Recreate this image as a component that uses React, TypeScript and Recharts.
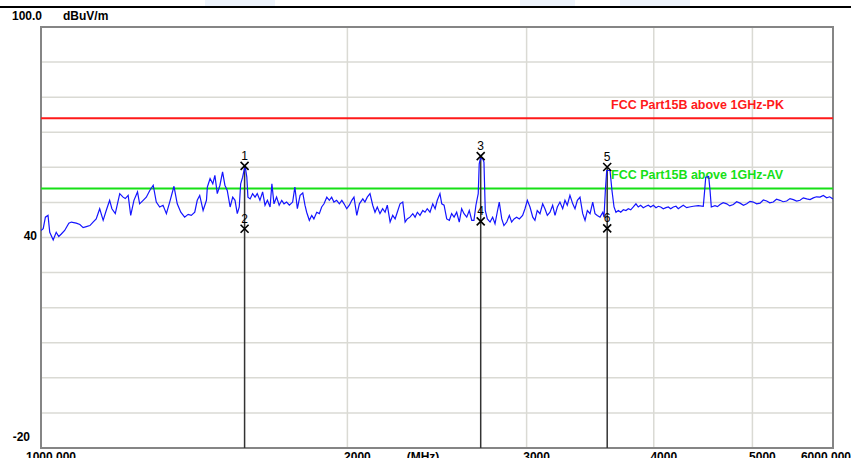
import React from "react";
import {
  CartesianGrid,
  ComposedChart,
  Label,
  Line,
  ReferenceArea,
  ReferenceLine,
  Scatter,
  XAxis,
  YAxis,
} from "recharts";

// sweep points (MHz)
const traceFreqs = [
  1000, 1005, 1010, 1016, 1020, 1028, 1035, 1041, 1047, 1055, 1065, 1071, 1083,
  1092, 1100, 1108, 1117, 1125, 1133, 1142, 1151, 1159, 1168, 1174, 1183, 1195,
  1204, 1210, 1218, 1225, 1234, 1244, 1250, 1260, 1269, 1279, 1289, 1298, 1308,
  1318, 1328, 1338, 1351, 1361, 1372, 1384, 1395, 1405, 1416, 1424, 1432, 1443,
  1454, 1457, 1466, 1475, 1482, 1490, 1499, 1508, 1516, 1524, 1534, 1543, 1551,
  1559, 1566, 1571, 1578, 1584, 1588, 1593, 1597, 1605, 1614, 1623, 1631, 1641,
  1651, 1660, 1669, 1679, 1686, 1694, 1704, 1714, 1724, 1733, 1743, 1754, 1767,
  1776, 1786, 1797, 1808, 1817, 1824, 1835, 1845, 1854, 1866, 1877, 1887, 1897,
  1909, 1920, 1930, 1940, 1952, 1964, 1975, 1985, 1997, 2009, 2020, 2030, 2043,
  2055, 2071, 2081, 2092, 2105, 2118, 2129, 2140, 2153, 2166, 2178, 2189, 2203,
  2216, 2228, 2239, 2253, 2267, 2279, 2290, 2304, 2319, 2331, 2343, 2357, 2372,
  2384, 2396, 2411, 2426, 2439, 2451, 2466, 2476, 2489, 2504, 2519, 2532, 2546,
  2561, 2576, 2590, 2604, 2620, 2635, 2650, 2663, 2675, 2689, 2695, 2702, 2716,
  2724, 2732, 2745, 2762, 2778, 2793, 2807, 2820, 2836, 2850, 2868, 2885, 2900,
  2916, 2933, 2951, 2973, 2989, 3005, 3023, 3042, 3057, 3073, 3092, 3111, 3127,
  3144, 3163, 3182, 3199, 3216, 3235, 3255, 3272, 3289, 3309, 3330, 3347, 3365,
  3385, 3406, 3424, 3442, 3463, 3484, 3502, 3520, 3542, 3564, 3574, 3585, 3596,
  3623, 3639, 3656, 3672, 3692, 3712, 3734, 3756, 3776, 3797, 3819, 3842, 3862,
  3883, 3906, 3930, 3951, 3972, 3996, 4020, 4041, 4063, 4087, 4112, 4134, 4156,
  4181, 4206, 4228, 4251, 4276, 4309, 4335, 4374, 4424, 4474, 4488, 4499, 4529,
  4543, 4556, 4594, 4620, 4647, 4680, 4718, 4750, 4789, 4825, 4862, 4900, 4936,
  4973, 5010, 5048, 5087, 5125, 5164, 5200, 5242, 5280, 5322, 5360, 5403, 5444,
  5485, 5527, 5569, 5610, 5654, 5696, 5739, 5780, 5826, 5870, 5915, 5955, 6000,
];

// measured level (dBuV/m)
const traceLevels = [
  42.0, 42.5, 45.8, 46.3, 41.5, 39.3, 41.5, 40.3, 41.0, 42.0, 44.1, 44.4, 44.1,
  43.7, 42.8, 43.1, 43.4, 44.4, 45.3, 48.2, 44.9, 47.7, 50.6, 48.2, 46.8, 52.5,
  51.5, 51.1, 52.0, 46.3, 50.6, 53.0, 49.6, 50.6, 51.5, 53.4, 54.9, 50.1, 48.7,
  49.2, 46.8, 50.1, 54.6, 49.6, 47.2, 45.8, 46.6, 46.3, 47.2, 50.6, 52.0, 47.7,
  50.6, 54.4, 56.8, 55.3, 57.7, 52.5, 54.9, 58.7, 54.9, 53.4, 48.7, 51.5, 50.6,
  46.8, 48.7, 55.3, 57.2, 59.5, 59.8, 57.2, 51.5, 51.0, 52.5, 51.5, 52.5, 50.6,
  53.0, 49.2, 50.6, 48.7, 55.3, 49.6, 51.5, 49.2, 50.6, 49.6, 50.1, 49.2, 50.1,
  54.4, 48.2, 52.0, 52.7, 49.2, 47.2, 44.9, 46.3, 45.3, 47.2, 46.8, 48.7, 49.6,
  51.5, 50.6, 51.5, 50.1, 50.6, 49.6, 50.6, 49.6, 48.2, 49.2, 50.6, 51.5, 46.3,
  49.6, 51.0, 50.1, 51.5, 52.5, 49.2, 47.2, 48.7, 46.8, 48.2, 47.2, 49.2, 44.4,
  46.3, 45.3, 47.2, 49.6, 50.1, 44.4, 45.3, 45.8, 46.8, 45.8, 47.2, 46.3, 47.7,
  47.2, 48.2, 47.2, 49.6, 48.2, 50.6, 52.5, 49.6, 49.2, 45.3, 44.9, 46.8, 45.8,
  47.2, 44.4, 48.2, 46.8, 45.8, 47.7, 44.9, 44.9, 49.2, 52.5, 61.0, 62.5, 62.5,
  61.5, 47.7, 45.3, 44.4, 45.8, 43.9, 47.2, 50.1, 45.3, 43.4, 44.4, 46.3, 44.4,
  45.3, 45.8, 45.3, 46.3, 48.2, 50.6, 48.7, 45.8, 44.9, 47.7, 46.8, 49.6, 48.2,
  46.3, 47.2, 49.2, 46.3, 48.7, 50.1, 48.2, 50.6, 49.2, 52.0, 49.6, 48.2, 50.6,
  51.5, 46.8, 44.9, 47.7, 46.8, 50.1, 46.8, 46.3, 45.8, 47.2, 45.8, 53.4, 59.1,
  59.1, 53.4, 48.7, 47.2, 47.7, 47.2, 47.9, 47.7, 48.2, 47.9, 48.7, 49.6, 48.7,
  49.2, 48.5, 48.9, 49.2, 48.7, 49.2, 48.5, 48.9, 48.7, 48.2, 48.5, 48.7, 48.2,
  48.7, 48.9, 48.2, 48.7, 49.2, 48.5, 48.7, 48.9, 49.1, 48.9, 53.4, 57.2, 57.4,
  53.4, 48.7, 49.1, 48.8, 49.4, 49.9, 49.6, 49.0, 49.4, 50.2, 49.8, 49.2, 49.6,
  50.3, 50.1, 49.6, 49.8, 50.7, 50.4, 49.9, 50.1, 50.9, 50.6, 50.2, 50.4, 51.1,
  50.8, 50.4, 50.6, 51.3, 51.0, 50.8, 51.3, 51.6, 51.5, 52.0, 51.3, 51.6, 51.0,
];

const markerNames = ["1", "2", "3", "4", "5", "6"];
const markerFreqs = [1585, 1585, 2704, 2704, 3600, 3600];
const markerLevels = [60.4, 42.5, 63.2, 44.6, 60.1, 42.6];

const pkLimit = 74;
const avLimit = 54;
const pkLabel = "FCC Part15B  above 1GHz-PK";
const avLabel = "FCC Part15B  above 1GHz-AV";

const xTicks = [1000, 2000, 3000, 4000, 5000, 6000];
const xTickLabels = ["1000.000", "2000", "3000", "4000", "5000", "6000.000"];
const yTicks = [100, 90, 80, 70, 60, 50, 40, 30, 20, 10, 0, -10, -20];
const yLabelValues = [100, 40, -20];
const yLabelTexts = ["100.0", "40", "-20"];

const traceData = traceFreqs.map((f, i) => ({ freq: f, level: traceLevels[i] }));
const markerData = markerFreqs.map((f, i) => ({
  freq: f,
  level: markerLevels[i],
  name: markerNames[i],
}));

const FONT = "'Liberation Sans', Arial, sans-serif";

const XTick = (props: any) => {
  const { x, y, payload } = props;
  const idx = xTicks.indexOf(payload.value);
  const last = idx === xTicks.length - 1;
  return (
    <text
      x={last ? x + 18 : x + 10}
      y={y + 13}
      textAnchor={last ? "end" : "middle"}
      fontFamily={FONT}
      fontWeight="bold"
      fontSize={12}
      fill="#000"
    >
      {xTickLabels[idx]}
    </text>
  );
};

const YTick = (props: any) => {
  const { x, y, payload } = props;
  const idx = yLabelValues.indexOf(payload.value);
  if (idx < 0) return <g />;
  const style = { fontFamily: FONT, fontWeight: "bold" as const, fontSize: 12, fill: "#000" };
  if (payload.value === 100) {
    return (
      <g>
        <text x={x - 29} y={y - 7} {...style}>
          {yLabelTexts[idx]}
        </text>
        <text x={x + 22} y={y - 7} {...style}>
          dBuV/m
        </text>
      </g>
    );
  }
  if (payload.value === -20) {
    return (
      <text x={x - 11} y={y - 7} textAnchor="end" {...style}>
        {yLabelTexts[idx]}
      </text>
    );
  }
  return (
    <text x={x - 4} y={y + 2} textAnchor="end" {...style}>
      {yLabelTexts[idx]}
    </text>
  );
};

const LimitLabel = (props: any) => {
  const { viewBox, text, color } = props;
  return (
    <text
      x={viewBox.x + 570}
      y={viewBox.y - 9}
      fill={color}
      fontFamily={FONT}
      fontWeight="bold"
      fontSize={12.5}
    >
      {text}
    </text>
  );
};

const UnitLabel = (props: any) => {
  const { viewBox } = props;
  return (
    <text
      x={viewBox.x + 382}
      y={viewBox.y + 13}
      textAnchor="middle"
      fontFamily={FONT}
      fontWeight="bold"
      fontSize={12}
      fill="#000"
    >
      (MHz)
    </text>
  );
};

const MarkerShape = (props: any) => {
  const { cx, cy, payload } = props;
  return (
    <g>
      <path
        d={`M${cx - 4},${cy - 4}L${cx + 4},${cy + 4}M${cx + 4},${cy - 4}L${cx - 4},${cy + 4}`}
        stroke="#000"
        strokeWidth={1.6}
      />
      <text
        x={cx}
        y={cy - 6}
        textAnchor="middle"
        fontFamily={FONT}
        fontSize={12}
        fill="#000"
      >
        {payload.name}
      </text>
    </g>
  );
};

const markerTops = [0, 2, 4].map((i) => ({ freq: markerFreqs[i], level: markerLevels[i] }));

export default function App() {
  return (
    <div
      style={{
        position: "absolute",
        left: 0,
        top: 0,
        width: 851,
        height: 458,
        overflow: "hidden",
        background: "#fff",
      }}
    >
      <div style={{ position: "absolute", left: 205, top: 0, width: 70, height: 6, background: "#eef4fc" }} />
      <div style={{ position: "absolute", left: 520, top: 0, width: 55, height: 6, background: "#eef4fc" }} />
      <div style={{ position: "absolute", left: 620, top: 0, width: 70, height: 6, background: "#eef4fc" }} />
      <div style={{ position: "absolute", left: 0, top: 6, width: 851, height: 2, background: "#000" }} />
      <div style={{ position: "absolute", left: 0, top: 0 }}>
        <ComposedChart
          width={851}
          height={480}
          margin={{ top: 27, right: 18, left: 0, bottom: 12 }}
        >
          <CartesianGrid stroke="#dadad4" strokeWidth={1.5} />
          <XAxis
            type="number"
            dataKey="freq"
            scale="log"
            domain={[1000, 6000]}
            ticks={xTicks}
            interval={0}
            allowDataOverflow
            height={20}
            axisLine={false}
            tickLine={false}
            tickSize={0}
            tickMargin={0}
            tick={<XTick />}
          >
            <Label content={<UnitLabel />} />
          </XAxis>
          <YAxis
            type="number"
            domain={[-20, 100]}
            ticks={yTicks}
            interval={0}
            width={41}
            axisLine={false}
            tickLine={false}
            tickSize={0}
            tickMargin={0}
            tick={<YTick />}
          />
          <ReferenceArea
            x1={1000}
            x2={6000}
            y1={-20}
            y2={100}
            fill="none"
            stroke="#858585"
            strokeWidth={2}
          />
          <ReferenceLine
            y={pkLimit}
            stroke="#ff1a1a"
            strokeWidth={2}
            label={<LimitLabel text={pkLabel} color="#ff1a1a" />}
          />
          <ReferenceLine
            y={avLimit}
            stroke="#16e016"
            strokeWidth={2}
            label={<LimitLabel text={avLabel} color="#16e016" />}
          />
          {markerTops.map((m) => (
            <ReferenceLine
              key={m.freq}
              segment={[
                { x: m.freq, y: m.level },
                { x: m.freq, y: -20 },
              ]}
              stroke="#333"
              strokeWidth={1.5}
            />
          ))}
          <Line
            data={traceData}
            dataKey="level"
            type="linear"
            stroke="#1414ff"
            strokeWidth={1.2}
            dot={false}
            isAnimationActive={false}
          />
          <Scatter
            data={markerData}
            dataKey="level"
            shape={<MarkerShape />}
            isAnimationActive={false}
          />
        </ComposedChart>
      </div>
    </div>
  );
}
